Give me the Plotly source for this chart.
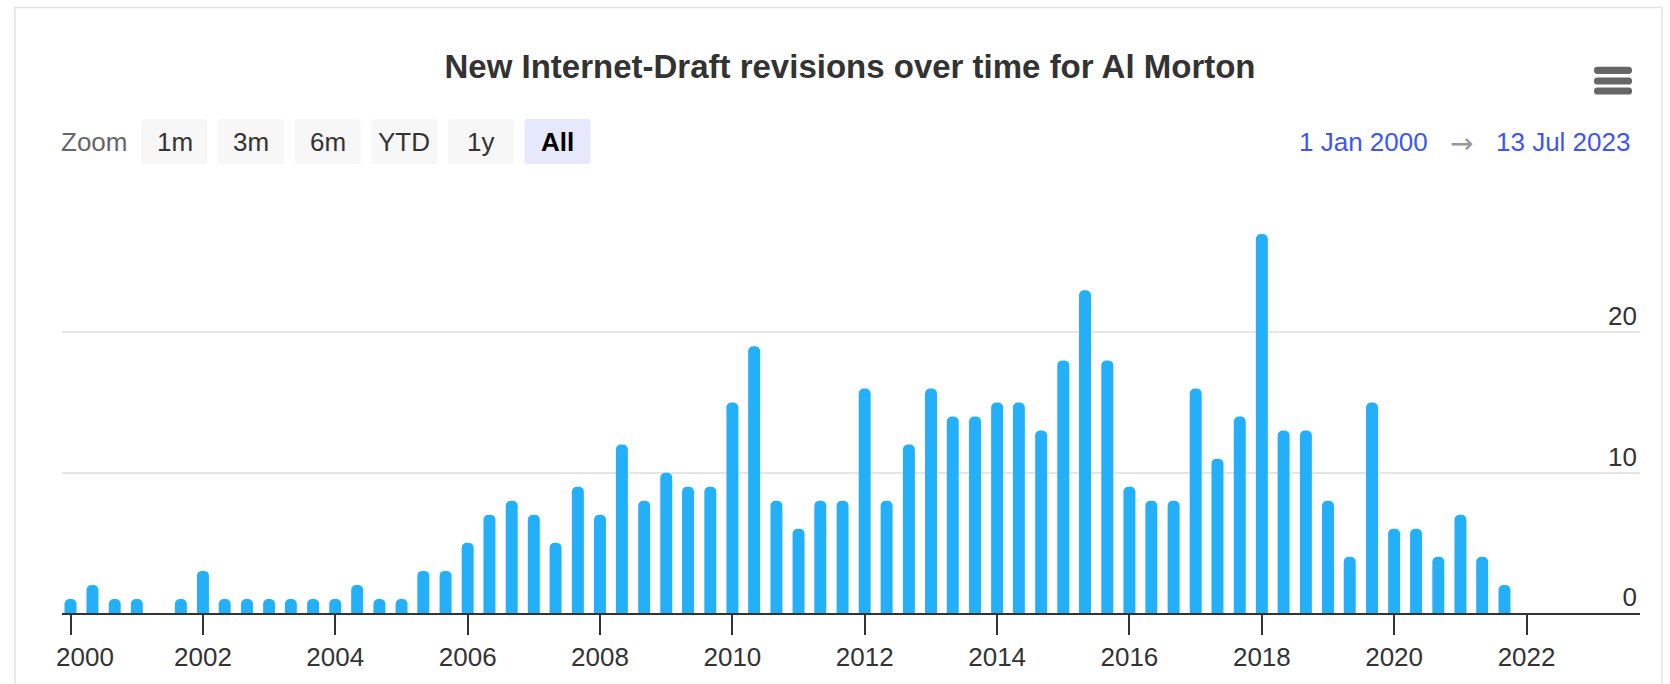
import plotly.graph_objects as go

# ---------------- data ----------------
years = [2000, 2001, 2002, 2003, 2004, 2005, 2006, 2007, 2008, 2009, 2010,
         2011, 2012, 2013, 2014, 2015, 2016, 2017, 2018, 2019, 2020, 2021]
group_months = ["01", "05", "09"]  # 4-month groups
revisions = [1, 2, 1,   1, 0, 1,   3, 1, 1,   1, 1, 1,   1, 2, 1,   1, 3, 3,
             5, 7, 8,   7, 5, 9,   7, 12, 8,  10, 9, 9,  15, 19, 8,  6, 8, 8,
             16, 8, 12, 16, 14, 14, 15, 15, 13, 18, 23, 18, 9, 8, 8,  16, 11, 14,
             27, 13, 13, 8, 4, 15,  6, 6, 4,   7, 4, 2]
periods = [f"{y}-{m}-01" for y in years for m in group_months]

tick_years = ["2000", "2002", "2004", "2006", "2008", "2010", "2012",
              "2014", "2016", "2018", "2020", "2022"]
y_ticks = [0, 10, 20, 30]
y_ticktext = ["0", "10", "20", ""]
zoom_buttons = ["1m", "3m", "6m", "YTD", "1y", "All"]
title_text = "New Internet-Draft revisions over time for Al Morton"
range_from = "1 Jan 2000"
range_to = "13 Jul 2023"

# ---------------- geometry helpers ----------------
W, H = 1670, 684
L, R, T, B = 62, 30, 192, 71
PW, PH = W - L - R, H - T - B


def px(x):
    return (x - L) / PW


def py(y):
    return (H - B - y) / PH


def rrect(x0, y0, x1, y1, r):
    pts = (f"M {px(x0 + r)},{py(y0)} L {px(x1 - r)},{py(y0)} "
           f"Q {px(x1)},{py(y0)} {px(x1)},{py(y0 + r)} "
           f"L {px(x1)},{py(y1 - r)} Q {px(x1)},{py(y1)} {px(x1 - r)},{py(y1)} "
           f"L {px(x0 + r)},{py(y1)} Q {px(x0)},{py(y1)} {px(x0)},{py(y1 - r)} "
           f"L {px(x0)},{py(y0 + r)} Q {px(x0)},{py(y0)} {px(x0 + r)},{py(y0)} Z")
    return pts


FONT = "Liberation Sans, Arial, Helvetica, sans-serif"
BAR_COLOR = "#23b0f8"
TEXT = "#333333"
FS = 26

bar_width_ms = 66 * 24 * 3600 * 1000

fig = go.Figure()
fig.add_trace(go.Bar(
    x=periods, y=revisions,
    width=[bar_width_ms] * len(periods),
    marker=dict(color=BAR_COLOR, line_width=0, cornerradius="50%"),
    hoverinfo="x+y",
))

ticktext = list(tick_years)
ticktext[0] = "\u00a0\u00a0\u00a0\u00a0" + ticktext[0]

fig.update_layout(
    width=W, height=H,
    margin=dict(l=L, r=R, t=T, b=B, autoexpand=False),
    paper_bgcolor="white", plot_bgcolor="white",
    showlegend=False,
    font=dict(family=FONT, color=TEXT),
    title=dict(text="<b>" + title_text + "</b>", x=850 / W, xref="container",
               xanchor="center", y=1 - 66 / H, yref="container", yanchor="middle",
               font=dict(family=FONT, size=33, color=TEXT)),
    xaxis=dict(
        type="date",
        range=["1999-11-15", "2023-09-19"],
        tickvals=[f"{y}-01-01" for y in tick_years],
        ticktext=ticktext,
        ticks="outside", ticklen=20, tickwidth=2, tickcolor=TEXT,
        showline=True, linecolor=TEXT, linewidth=2,
        showgrid=False, zeroline=False,
        tickfont=dict(family=FONT, size=FS, color=TEXT),
    ),
    yaxis=dict(
        side="right", range=[0, 30],
        tickvals=y_ticks, ticktext=y_ticktext,
        ticklabelposition="inside top",
        ticklabelshift=2,
        showgrid=True, gridcolor="#e6e6e6", gridwidth=2,
        zeroline=False, showline=False, ticks="",
        tickfont=dict(family=FONT, size=FS, color=TEXT),
    ),
)

shapes = []
# chart frame
shapes.append(dict(type="rect", xref="paper", yref="paper",
                   x0=px(15), x1=px(1662), y0=py(720), y1=py(7.5),
                   line=dict(color="#e3e3e3", width=1.5), fillcolor="rgba(0,0,0,0)",
                   layer="below"))
# hamburger menu
for yc in (70.3, 81.0, 91.0):
    shapes.append(dict(type="path", xref="paper", yref="paper",
                       path=rrect(1594, yc - 3.6, 1632, yc + 3.6, 3.4),
                       fillcolor="#666666", line=dict(width=0)))

annotations = []
annotations.append(dict(text="Zoom", x=px(94), y=py(142), xref="paper", yref="paper",
                        showarrow=False, xanchor="center", yanchor="middle",
                        font=dict(family=FONT, size=FS, color="#666666")))
for i, lab in enumerate(zoom_buttons):
    x0 = 141.5 + i * 76.6
    sel = lab == "All"
    shapes.append(dict(type="path", xref="paper", yref="paper",
                       path=rrect(x0, 119, x0 + 66, 164, 3),
                       fillcolor="#e6e9fb" if sel else "#f7f7f7",
                       line=dict(width=0)))
    annotations.append(dict(text=("<b>" + lab + "</b>") if sel else lab,
                            x=px(x0 + 33), y=py(142), xref="paper", yref="paper",
                            showarrow=False, xanchor="center", yanchor="middle",
                            font=dict(family=FONT, size=FS,
                                      color="#000000" if sel else TEXT)))

annotations.append(dict(text=range_from, x=px(1430), y=py(142), xref="paper", yref="paper",
                        showarrow=False, xanchor="right", yanchor="middle",
                        font=dict(family=FONT, size=FS, color="#3d56f5")))
annotations.append(dict(text="\u2192", x=px(1461), y=py(143), xref="paper", yref="paper",
                        showarrow=False, xanchor="center", yanchor="middle",
                        font=dict(family="DejaVu Sans, sans-serif", size=28, color="#999999")))
annotations.append(dict(text=range_to, x=px(1632), y=py(142), xref="paper", yref="paper",
                        showarrow=False, xanchor="right", yanchor="middle",
                        font=dict(family=FONT, size=FS, color="#3d56f5")))

fig.update_layout(shapes=shapes, annotations=annotations)
fig.write_html("out.html")
